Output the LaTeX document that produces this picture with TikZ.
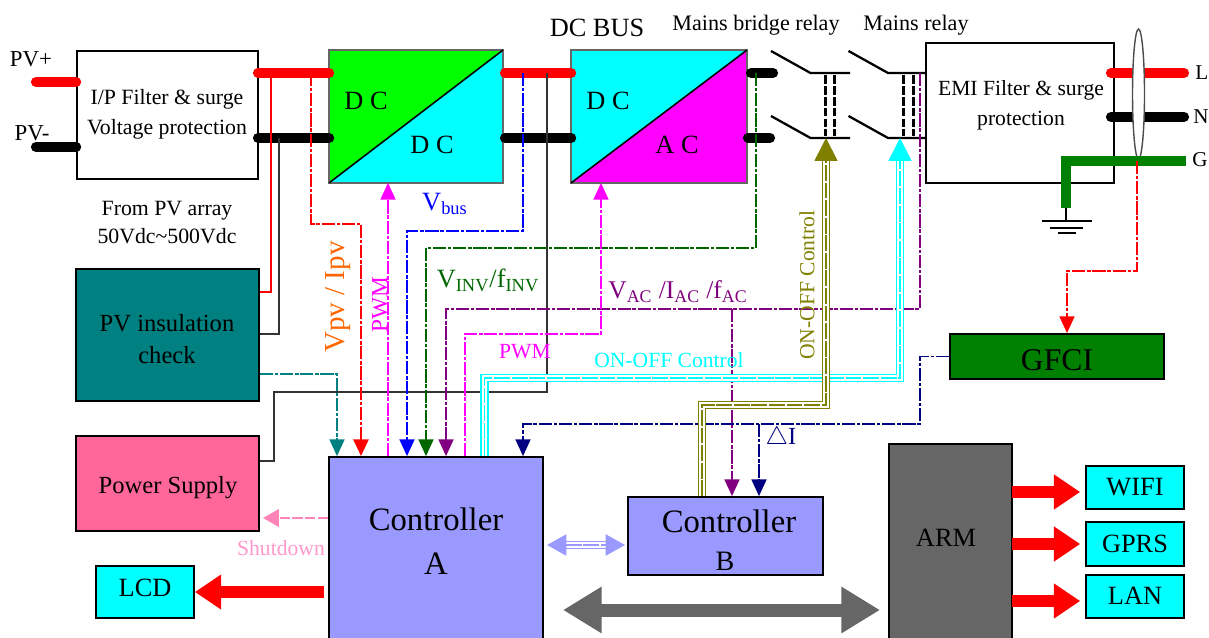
\documentclass[tikz,border=0pt]{standalone}
\usepackage{fontspec}
\setmainfont{Liberation Serif}
\usetikzlibrary{arrows.meta,shapes.geometric}
\definecolor{periw}{RGB}{153,153,255}
\definecolor{pvteal}{RGB}{0,128,128}
\definecolor{pspink}{RGB}{255,102,153}
\definecolor{armgray}{RGB}{102,102,102}
\definecolor{dkgreen}{RGB}{0,128,0}
\definecolor{sigpurple}{RGB}{128,0,128}
\definecolor{sigolive}{RGB}{128,128,0}
\definecolor{signavy}{RGB}{0,0,128}
\definecolor{shutpink}{RGB}{255,153,204}
\definecolor{sigorange}{RGB}{255,102,0}
\definecolor{elcyan}{RGB}{0,255,255}
\definecolor{elmag}{RGB}{255,0,255}
\definecolor{elgreen}{RGB}{0,255,0}
\definecolor{elred}{RGB}{255,0,0}
\newcommand{\fsize}[1]{\fontsize{#1}{#1}\selectfont}
\newcommand{\triple}[4][shorten >=12pt]{
    \draw [#2,line width=5pt,#1] #4;
    \draw [white,line width=3.2pt,#1] #4;
    \draw [#2,line width=1pt,dash pattern=on 9pt off 1pt,#3] #4;}

\begin{document}
\begin{tikzpicture}[x=0.02cm,y=-0.02cm,
    box/.style n args={2}{draw,line width=1pt,minimum width=#1*0.02cm,minimum height=#2*0.02cm,inner sep=0pt,align=center},
    bar/.style={line width=5.8pt,line cap=round},
    sig/.style={line width=0.9pt,dash pattern=on 7.5pt off 1pt on 2pt off 1pt},
    head/.style={-{Triangle[length=9.5pt,width=8.5pt]}},
    fathead/.style={-{Triangle[length=13pt,width=13pt]}},
    fatred/.style={elred,line width=6.5pt,-{Triangle[length=15pt,width=19pt]}},
    relay/.style={line width=1.3pt},
    txt/.style={inner sep=0pt,align=center}]
    \useasboundingbox (0,0) rectangle (1209,638);
    \clip (0,0) rectangle (1209,638);

    % blocks
    \node [box={181}{128},draw] (ipfilter) at (167.5,115) {};
    \node [box={172}{131},draw=none] (dcdc) at (416,116.5) {};
    \node [box={174}{131},draw=none] (dcac) at (659,116.5) {};
    \node [box={188}{140}] (emi) at (1020,113) {};
    \node [box={183}{132},fill=pvteal] (pvcheck) at (167.5,335) {};
    \node [box={183}{95},fill=pspink] (psu) at (167.5,483.5) {};
    \node [box={214}{210},fill=periw] (ctrla) at (436,562) {};
    \node [box={195}{78},fill=periw] (ctrlb) at (725.5,536) {};
    \node [box={123}{220},fill=armgray] (arm) at (950.5,554) {};
    \node [box={214}{45},fill=dkgreen] (gfci) at (1057,356.5) {};
    \node [box={98}{52},fill=elcyan] (lcd) at (145,592) {};
    \node [box={98}{43},fill=elcyan] (wifi) at (1135,487.5) {};
    \node [box={98}{44},fill=elcyan] (gprs) at (1135,544) {};
    \node [box={98}{43},fill=elcyan] (lan) at (1135,596.5) {};

    % converters
    \fill [elgreen] (dcdc.north west) -- (dcdc.north east) -- (dcdc.south west) -- cycle;
    \fill [elcyan] (dcdc.north east) -- (dcdc.south east) -- (dcdc.south west) -- cycle;
    \fill [elcyan] (dcac.north west) -- (dcac.north east) -- (dcac.south west) -- cycle;
    \fill [elmag] (dcac.north east) -- (dcac.south east) -- (dcac.south west) -- cycle;
    \draw [armgray,line width=1pt] (dcdc.north west) rectangle (dcdc.south east);
    \draw [armgray,line width=1pt] (dcac.north west) rectangle (dcac.south east);
    \draw [line width=0.9pt] (dcdc.south west) -- (dcdc.north east);
    \draw [line width=0.9pt] (dcac.south west) -- (dcac.north east);

    % tap points
    \coordinate (pvplus) at (36,82);
    \coordinate (pvminus) at (36,147);
    \coordinate (ippos) at (258,73);
    \coordinate (ipneg) at (258,138);
    \coordinate (buspos) at (505,73);
    \coordinate (busneg) at (505,138);
    \coordinate (acline) at (751,73);
    \coordinate (acneut) at (748,138);
    \coordinate (gnd) at (1066,208);
    \coordinate (core) at (1137,161);
    \coordinate (relayb) at (826,138);
    \coordinate (relaym) at (900,138);

    % power rails
    \draw [bar,elred] (pvplus) -- (ipfilter.west |- pvplus);
    \draw [bar] (pvminus) -- (ipfilter.west |- pvminus);
    \draw [bar,elred] (ippos) -- (dcdc.west |- ippos);
    \draw [bar] (ipneg) -- (dcdc.west |- ipneg);
    \draw [bar,elred] (buspos) -- (dcac.west |- buspos);
    \draw [bar] (busneg) -- (dcac.west |- busneg);
    \draw [bar] (acline) -- (773,73);
    \draw [bar] (acneut) -- (770,138);
    \draw [bar,elred] (1111,73) -- (1184,73);
    \draw [bar] (1111,117) -- (1184,117);
    \node [draw=black!70,fill=white,ellipse,minimum width=0.24cm,minimum height=2.6cm,inner sep=0pt,line width=0.8pt] (choke) at (1138.5,94) {};
    \draw [dkgreen,line width=6pt,line join=miter] (gnd) -- (1066,161) -- (1186,161);

    % earth
    \draw [line width=0.8pt] (gnd) -- (1066,221);
    \draw [line width=1.1pt] (1042,221) -- (1092,221);
    \draw [line width=1.1pt] (1050,228) -- (1083,228);
    \draw [line width=1.1pt] (1058,233) -- (1076,233);

    % relays
    \foreach \x/\xe in {771/850,848.5/926}{
      \draw [relay] (\x,51) -- (\x+39.5,73) -- (\xe,73);
      \draw [relay] (\x,116) -- (\x+39.5,138) -- (\xe,138);
    }
    \foreach \x in {825,834,903,913}
      \draw [line width=1.7pt,dash pattern=on 5pt off 1.2pt] (\x,75) -- (\x,136);

    % sense lines
    \draw [elred,line width=0.8pt] (271,73) -- (271,292) -- (pvcheck.east |- 0,292);
    \draw [line width=0.8pt,black!80] (279,138) -- (279,334) -- (pvcheck.east |- 0,334);
    \draw [line width=0.9pt,black!80] (547,73) -- (547,392) -- (274,392) -- (274,461) -- (psu.east |- 0,461);
    \draw [sig,pvteal,head] (pvcheck.east |- 0,374) -- (337,374) -- (ctrla.north -| 337,0);
    \draw [sig,elred,line width=1.5pt,head] (311,73) -- (311,224) -- (361,224) -- (ctrla.north -| 361,0);
    \draw [sig,elmag,head] (ctrla.north -| 388,0) -- (dcdc.south -| 388,0);
    \draw [sig,blue,head] (523,73) -- (523,231) -- (407,231) -- (ctrla.north -| 407,0);
    \draw [sig,dkgreen!80!black,head] (756,73) -- (756,248) -- (426,248) -- (ctrla.north -| 426,0);
    \draw [sig,sigpurple,head] (920,73) -- (920,309) -- (446,309) -- (ctrla.north -| 446,0);
    \draw [sig,sigpurple,head] (732,309) -- (ctrlb.north -| 732,0);
    \draw [sig,elmag,head] (ctrla.north -| 465,0) -- (465,334) -- (601,334) -- (dcac.south -| 601,0);
    \draw [sig,signavy,head] (gfci.west) -- (920,356.5) -- (920,424) -- (523,424) -- (ctrla.north -| 523,0);
    \draw [sig,signavy,head] (759,424) -- (ctrlb.north -| 759,0);
    \draw [sig,elred,head,line width=0.8pt] (core) -- (1137,271) -- (1067,271) -- (gfci.north -| 1067,0);
    \draw [shutpink!60!pspink,line width=0.9pt,dash pattern=on 6pt off 1.2pt,-{Triangle[length=9pt,width=10pt]}] (ctrla.west |- 0,518) -- (263,518);

    % control buses
    \triple{elcyan}{fathead}{(ctrla.north -| 484.5,0) -- (484.5,378) -- (900,378) -- (relaym)}
    \triple{sigolive}{fathead}{(ctrlb.north -| 702,0) -- (702,405) -- (826,405) -- (relayb)}
    \triple[shorten >=10pt,shorten <=10pt]{periw}{{Triangle[length=11pt,width=12pt]}-{Triangle[length=11pt,width=12pt]}}{(547,545) -- (625,545)}

    % data arrows
    \draw [fatred] (ctrla.west |- 0,592) ++(-4,0) -- (lcd.east |- 0,592);
    \draw [fatred,shorten >=2.8pt] (1012,492) -- (wifi.west |- 0,492);
    \draw [fatred,shorten >=2.8pt] (1012,544) -- (gprs.west |- 0,544);
    \draw [fatred,shorten >=2.8pt] (1012,601) -- (lan.west |- 0,601);
    \draw [armgray,line width=7.4pt,{Triangle[length=22pt,width=25pt]}-{Triangle[length=22pt,width=25pt]}] (563,610) -- (880,610);

    % labels
    \node [txt,font=\fsize{12.4}] (iptxt) at (167,114) {I/P Filter \& surge\\[4.5pt]Voltage protection};
    \node [txt,font=\fsize{12.3}] (emitxt) at (1021,105.5) {EMI Filter \& surge\\[4.6pt]protection};
    \node [txt,font=\fsize{14}] (pvtxt) at (167,339) {PV insulation\\[4.5pt]check};
    \node [txt,font=\fsize{14}] (psutxt) at (168,488) {Power Supply};
    \node [txt,font=\fsize{18}] (gfcitxt) at (1057,360) {GFCI};
    \node [txt,font=\fsize{15}] (lcdtxt) at (145,588) {LCD};
    \node [txt,font=\fsize{15}] (wifitxt) at (1135,487) {WIFI};
    \node [txt,font=\fsize{15}] (gprstxt) at (1135,544) {GPRS};
    \node [txt,font=\fsize{15}] (lantxt) at (1135,596) {LAN};
    \node [txt,font=\fsize{13}] (pvplustxt) at (31,59) {PV+};
    \node [txt,font=\fsize{13}] (pvminustxt) at (32,133) {PV-};
    \node [txt,font=\fsize{12.4}] (pvarray) at (167,223) {From PV array\\[3.5pt]50Vdc\textasciitilde500Vdc};
    \node [txt,font=\fsize{15}] (dc1) at (366,101) {D C};
    \node [txt,font=\fsize{15}] (dc2) at (432,145) {D C};
    \node [txt,font=\fsize{15}] (dc3) at (608,101) {D C};
    \node [txt,font=\fsize{15}] (ac1) at (677,145) {A C};
    \node [txt,font=\fsize{15}] (dcbus) at (597,28) {DC BUS};
    \node [txt,font=\fsize{12.6}] (bridgetxt) at (756,25) {Mains bridge relay};
    \node [txt,font=\fsize{12.6}] (mainstxt) at (916,25) {Mains relay};
    \node [txt,font=\fsize{12},anchor=west] (ltxt) at (1195,73) {L};
    \node [txt,font=\fsize{12},anchor=west] (ntxt) at (1193,117) {N};
    \node [txt,font=\fsize{12},anchor=west] (gtxt) at (1192,160) {G};
    \node [txt,font=\fsize{16.5},sigorange,rotate=90] (vpvtxt) at (338,297) {Vpv / Ipv};
    \node [txt,font=\fsize{13.3},elmag,rotate=90] (pwm1) at (380,305) {PWM};
    \node [txt,font=\fsize{15},blue] (vbus) at (445,204) {V\textsubscript{bus}};
    \node [txt,font=\fsize{15},dkgreen!80!black] (vinv) at (488,280) {V\textsubscript{INV}/f\textsubscript{INV}};
    \node [txt,font=\fsize{14.5},sigpurple] (vac) at (678,292) {V\textsubscript{AC} /I\textsubscript{AC} /f\textsubscript{AC}};
    \node [txt,font=\fsize{12.3},elmag] (pwm2) at (525,352) {PWM};
    \node [txt,font=\fsize{12.3},elcyan] (onoff1) at (669,360) {ON-OFF Control};
    \node [txt,font=\fsize{12.3},sigolive,rotate=90] (onoff2) at (807,285) {ON-OFF Control};
    \node [txt,font=\fsize{12.3},shutpink] (shutdown) at (281,548) {Shutdown};
    \node [txt,font=\fsize{14},signavy] (dtxt) at (781,438) {$\triangle$I};
    \node [txt,font=\fsize{18.6}] (atxt) at (436,541) {Controller\\[6.6pt]A};
    \node [txt,font=\fsize{18.6}] (btxt) at (729,521) {Controller};
    \node [txt,font=\fsize{16}] (bname) at (725,561) {B};
    \node [txt,font=\fsize{15}] (armtxt) at (946,538) {ARM};
\end{tikzpicture}
\end{document}
